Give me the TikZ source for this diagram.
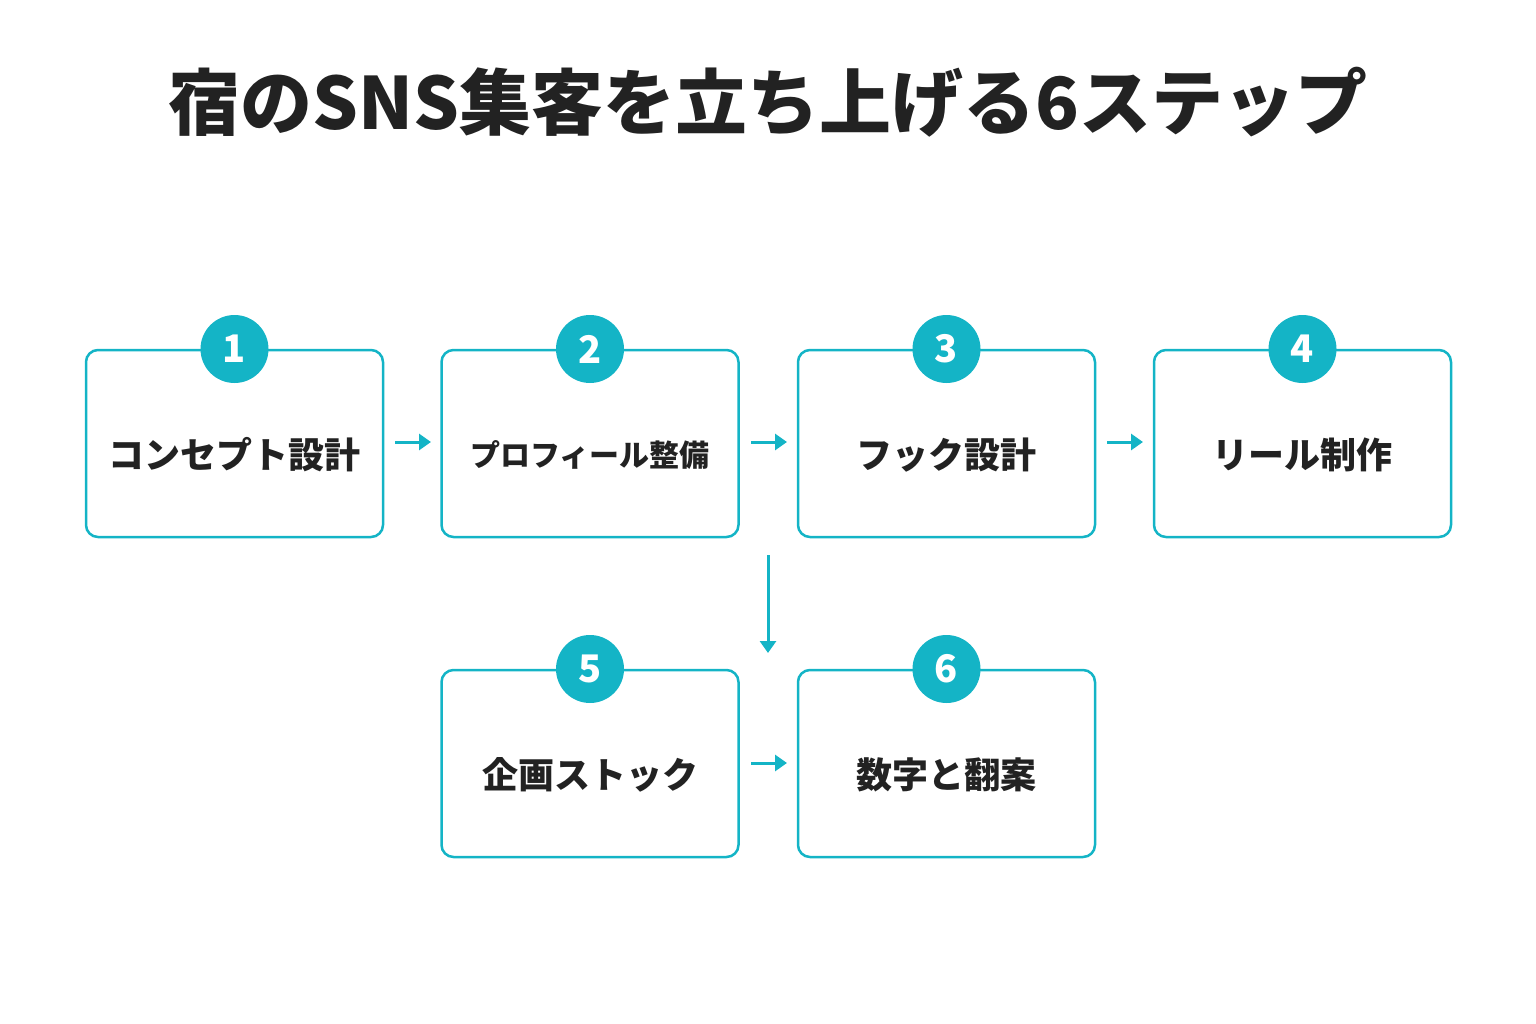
\documentclass[tikz,border=0pt]{standalone}
\usepackage{fontspec}
\newfontfamily\cjk{Noto Sans CJK JP}
\usetikzlibrary{arrows.meta}
\definecolor{teal}{HTML}{14B4C6}
\definecolor{ink}{HTML}{222222}
\begin{document}
\begin{tikzpicture}[x=1pt,y=-1pt,
 box/.style={draw=teal,line width=2.5pt,rounded corners=12pt,minimum width=297pt,minimum height=187pt,inner sep=0pt},
 lbl/.style={font=\cjk\bfseries\fontsize{36}{40}\selectfont,text=ink},
 num/.style={circle,fill=teal,minimum size=68pt,inner sep=0pt,text=white,font=\cjk\bfseries\fontsize{38}{40}\selectfont},
 arr/.style={draw=teal,line width=3pt,-{Triangle[length=12pt,width=16pt]}}]
\useasboundingbox (0,0) rectangle (1536,1024);
\node[font=\cjk\bfseries\fontsize{72}{80}\selectfont,text=ink] (title) at (768,102) {宿のSNS集客を立ち上げる6ステップ};
\node[box] (b1) at (234.5,443.5) {};
\node[box] (b2) at (590,443.5) {};
\node[box] (b3) at (946.5,443.5) {};
\node[box] (b4) at (1302.5,443.5) {};
\node[box] (b5) at (590,763.5) {};
\node[box] (b6) at (946.5,763.5) {};
\node[lbl] (t1) at (234.5,455) {コンセプト設計};
\node[lbl,font=\cjk\bfseries\fontsize{30}{34}\selectfont] (t2) at (590,455) {プロフィール整備};
\node[lbl] (t3) at (946.5,455) {フック設計};
\node[lbl] (t4) at (1302.5,455) {リール制作};
\node[lbl] (t5) at (590,775) {企画ストック};
\node[lbl] (t6) at (946.5,775) {数字と翻案};
\node[num] (n1) at (234.5,349) {1};
\node[num] (n2) at (590,349) {2};
\node[num] (n3) at (946.5,349) {3};
\node[num] (n4) at (1302.5,349) {4};
\node[num] (n5) at (590,669) {5};
\node[num] (n6) at (946.5,669) {6};
\coordinate (a1s) at (395,442); \coordinate (a1e) at (431,442);
\coordinate (a2s) at (751,442); \coordinate (a2e) at (787,442);
\coordinate (a3s) at (1107,442); \coordinate (a3e) at (1143,442);
\coordinate (a4s) at (768,555); \coordinate (a4e) at (768,653);
\coordinate (a5s) at (751,763); \coordinate (a5e) at (787,763);
\draw[arr] (a1s) -- (a1e);
\draw[arr] (a2s) -- (a2e);
\draw[arr] (a3s) -- (a3e);
\draw[arr] (a4s) -- (a4e);
\draw[arr] (a5s) -- (a5e);
\end{tikzpicture}
\end{document}
